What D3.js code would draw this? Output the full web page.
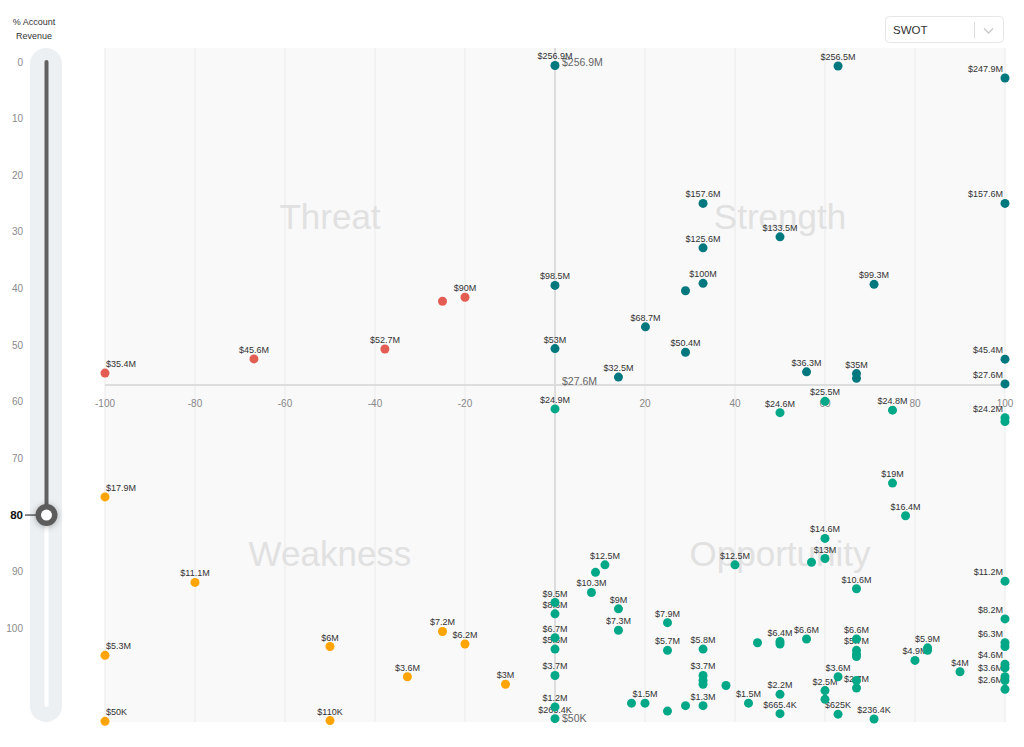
<!DOCTYPE html>
<html>
<head>
<meta charset="utf-8">
<script src="https://cdn.jsdelivr.net/npm/d3@7"></script>
<style>
  body { margin: 0; background: #fff; font-family: "Liberation Sans", Arial, sans-serif; }
</style>
</head>
<body>
<svg id="chart" width="1024" height="747"></svg>
<script>
// [score, revenue in $M, show label]
const strength = [
  [0, 256.9, 1], [62.9, 256.5, 1], [100, 247.9, 1], [32.9, 157.6, 1], [100, 157.6, 1],
  [50, 133.5, 1], [32.9, 125.6, 1], [0, 98.5, 1], [32.9, 100, 1], [29, 94.7, 0],
  [70.9, 99.3, 1], [20.1, 68.7, 1], [0, 53, 1], [29, 50.4, 1], [14.1, 32.5, 1],
  [55.9, 36.3, 1], [67, 35, 1], [67, 31.6, 0], [100, 45.4, 1], [100, 27.6, 1]
];
const threat = [
  [-100, 35.4, 1], [-66.9, 45.6, 1], [-37.8, 52.7, 1], [-25, 87.1, 0], [-20, 90, 1]
];
const opportunity = [
  [0, 24.9, 1], [50, 24.6, 1], [60, 25.5, 1], [75, 24.8, 1], [100, 24.2, 1], [100, 23.9, 0],
  [75, 19, 1], [77.9, 16.4, 1], [60, 14.6, 1], [60, 13, 1], [57, 12.7, 0], [40, 12.5, 1],
  [11.1, 12.5, 1], [9, 11.9, 0], [8.1, 10.3, 1], [67, 10.6, 1], [100, 11.2, 1],
  [0, 9.5, 1], [0, 8.6, 1], [14.1, 9, 1], [14.1, 7.3, 1], [25, 7.9, 1], [100, 8.2, 1],
  [0, 6.7, 1], [0, 5.8, 1], [25, 5.7, 1], [32.9, 5.8, 1], [45, 6.3, 0], [50, 6.4, 1],
  [50, 6.2, 0], [55.9, 6.6, 1], [67, 6.6, 1], [67, 5.7, 1], [67, 5.4, 0], [67, 5.2, 0],
  [82.8, 5.9, 1], [82.8, 5.7, 0], [80, 4.9, 1], [90, 4, 1], [100, 6.3, 1], [100, 6, 0],
  [100, 4.6, 1], [100, 4.3, 0], [100, 3.6, 1], [100, 3.3, 0], [100, 2.6, 1],
  [0, 3.7, 1], [32.9, 3.7, 1], [32.9, 3.3, 0], [32.9, 3.0, 0], [38, 2.9, 0],
  [62.9, 3.6, 1], [67, 3.3, 0], [67, 2.7, 1], [60, 2.5, 1], [60, 1.8, 0], [50, 2.2, 1],
  [43, 1.5, 1], [32.9, 1.3, 1], [29, 1.3, 0], [25, 0.87, 0], [20, 1.5, 1], [17, 1.5, 0],
  [0, 1.2, 1], [0, 0.2664, 1], [50, 0.6654, 1], [62.9, 0.625, 1], [70.9, 0.2364, 1]
];
const weakness = [
  [-100, 17.9, 1], [-80, 11.1, 1], [-25, 7.2, 1], [-20, 6.2, 1], [-50, 6, 1],
  [-100, 5.3, 1], [-32.8, 3.6, 1], [-11, 3, 1], [-100, 0.05, 1], [-50, 0.11, 1]
];

const xTicks = [-100, -80, -60, -40, -20, 0, 20, 40, 60, 80, 100];
const yTicks = [256.9, 27.6, 0.05];
const sliderTicks = [0, 10, 20, 30, 40, 50, 60, 70, 80, 90, 100];
const sliderValue = 80;
const revenueSplit = 26.8;
const revenueTop = 269.5;

const colors = { threat: "#e35d52", strength: "#00787e", weakness: "#ffa400", opportunity: "#00a887" };

const svg = d3.select("#chart");
const plot = { left: 105, right: 1005, top: 48, bottom: 722 };
const midY = (plot.top + plot.bottom) / 2;

const x = d3.scaleLinear().domain([-100, 100]).range([plot.left, plot.right]);
const y = d3.scaleLinear().domain([0, revenueSplit, revenueTop]).range([plot.bottom, midY, plot.top]);

const fmt = v => v >= 1 ? `$${+v.toFixed(1)}M` : `$${+(v * 1000).toFixed(1)}K`;

// shadow for slider handle
const defs = svg.append("defs");
defs.append("filter").attr("id", "shadow").attr("x", "-100%").attr("y", "-100%")
  .attr("width", "300%").attr("height", "300%")
  .append("feDropShadow").attr("dx", 0).attr("dy", 1).attr("stdDeviation", 3)
  .attr("flood-color", "#000").attr("flood-opacity", 0.3);

// plot background
svg.append("rect")
  .attr("x", plot.left).attr("y", plot.top)
  .attr("width", plot.right - plot.left).attr("height", plot.bottom - plot.top)
  .attr("fill", "#f9f9f9");

// vertical grid
svg.append("g").selectAll("line")
  .data(xTicks.filter(d => d !== 0))
  .enter().append("line")
  .attr("x1", d => x(d)).attr("x2", d => x(d))
  .attr("y1", plot.top).attr("y2", plot.bottom)
  .attr("stroke", "#ebebeb").attr("stroke-width", 1);

// quadrant names
const quadrants = [
  { name: "Threat", cx: (x(-100) + x(0)) / 2, cy: (y(revenueTop) + y(revenueSplit)) / 2 },
  { name: "Strength", cx: (x(0) + x(100)) / 2, cy: (y(revenueTop) + y(revenueSplit)) / 2 },
  { name: "Weakness", cx: (x(-100) + x(0)) / 2, cy: (y(revenueSplit) + y(0)) / 2 },
  { name: "Opportunity", cx: (x(0) + x(100)) / 2, cy: (y(revenueSplit) + y(0)) / 2 }
];
svg.append("g").selectAll("text")
  .data(quadrants)
  .enter().append("text")
  .attr("x", d => d.cx).attr("y", d => d.cy)
  .attr("text-anchor", "middle").attr("dominant-baseline", "central")
  .attr("font-size", 35).attr("fill", "#e1e1e1")
  .text(d => d.name);

// zero lines
svg.append("line")
  .attr("x1", x(0)).attr("x2", x(0)).attr("y1", plot.top).attr("y2", plot.bottom)
  .attr("stroke", "#dddddd").attr("stroke-width", 2);
svg.append("line")
  .attr("x1", plot.left).attr("x2", plot.right).attr("y1", y(revenueSplit)).attr("y2", y(revenueSplit))
  .attr("stroke", "#dddddd").attr("stroke-width", 2);

// x tick labels
svg.append("g").selectAll("text")
  .data(xTicks.filter(d => d !== 0))
  .enter().append("text")
  .attr("x", d => x(d)).attr("y", y(revenueSplit) + 22)
  .attr("text-anchor", "middle").attr("font-size", 10).attr("fill", "#888")
  .text(d => d);

// y tick labels along zero line
svg.append("g").selectAll("text")
  .data(yTicks)
  .enter().append("text")
  .attr("x", x(0) + 7).attr("y", d => y(d) + 1)
  .attr("font-size", 10.5).attr("fill", "#666")
  .text(d => fmt(d));

// points
const all = [
  ...threat.map(d => ({ x: d[0], v: d[1], lab: d[2], c: colors.threat })),
  ...strength.map(d => ({ x: d[0], v: d[1], lab: d[2], c: colors.strength })),
  ...weakness.map(d => ({ x: d[0], v: d[1], lab: d[2], c: colors.weakness })),
  ...opportunity.map(d => ({ x: d[0], v: d[1], lab: d[2], c: colors.opportunity }))
];

const labels = svg.append("g").selectAll("text")
  .data(all.filter(d => d.lab))
  .enter().append("text")
  .attr("y", d => y(d.v) - 6)
  .attr("font-size", 9).attr("fill", "#333")
  .text(d => fmt(d.v));

labels.each(function(d) {
  const w = this.getComputedTextLength();
  let left = x(d.x) - w / 2;
  left = Math.max(plot.left + 1, Math.min(plot.right - 2 - w, left));
  d3.select(this).attr("x", left);
});

svg.append("g").selectAll("circle")
  .data(all)
  .enter().append("circle")
  .attr("cx", d => x(d.x)).attr("cy", d => y(d.v))
  .attr("r", 4.5)
  .attr("fill", d => d.c);

// slider
const sy = d3.scaleLinear().domain([0, 100]).range([62, 628.3]);
const slider = svg.append("g");
slider.append("text").attr("x", 34).attr("y", 25).attr("text-anchor", "middle")
  .attr("font-size", 9).attr("fill", "#333").text("% Account");
slider.append("text").attr("x", 34).attr("y", 39).attr("text-anchor", "middle")
  .attr("font-size", 9).attr("fill", "#333").text("Revenue");

slider.append("rect")
  .attr("x", 30).attr("y", plot.top).attr("width", 32).attr("height", plot.bottom - plot.top)
  .attr("rx", 16).attr("fill", "#ecf0f3");

const trackX = 46.5;
const trackEnd = plot.bottom - 17;
slider.append("line")
  .attr("x1", trackX).attr("x2", trackX).attr("y1", sy(sliderValue)).attr("y2", trackEnd)
  .attr("stroke", "#fff").attr("stroke-width", 4).attr("stroke-linecap", "round");
slider.append("line")
  .attr("x1", trackX).attr("x2", trackX).attr("y1", sy(0)).attr("y2", sy(sliderValue))
  .attr("stroke", "#616161").attr("stroke-width", 4).attr("stroke-linecap", "round");

slider.append("g").selectAll("text")
  .data(sliderTicks.filter(d => d !== sliderValue))
  .enter().append("text")
  .attr("x", 23).attr("y", d => sy(d)).attr("dy", "0.35em")
  .attr("text-anchor", "end").attr("font-size", 10).attr("fill", "#8a8a8a")
  .text(d => d);

slider.append("text")
  .attr("x", 23).attr("y", sy(sliderValue)).attr("dy", "0.35em")
  .attr("text-anchor", "end").attr("font-size", 11.5).attr("font-weight", "bold").attr("fill", "#111")
  .text(sliderValue);
slider.append("line")
  .attr("x1", 25).attr("x2", 37).attr("y1", sy(sliderValue)).attr("y2", sy(sliderValue))
  .attr("stroke", "#111").attr("stroke-width", 1);

slider.append("circle")
  .attr("cx", trackX).attr("cy", sy(sliderValue)).attr("r", 11)
  .attr("fill", "#5b5b5b").attr("filter", "url(#shadow)");
slider.append("circle")
  .attr("cx", trackX).attr("cy", sy(sliderValue)).attr("r", 5.5)
  .attr("fill", "#fff");

// dropdown
const dd = svg.append("g");
dd.append("rect").attr("x", 885.5).attr("y", 16.5).attr("width", 118).attr("height", 26)
  .attr("rx", 4).attr("fill", "#fff").attr("stroke", "#e6e6e6");
dd.append("text").attr("x", 893).attr("y", 34).attr("font-size", 11.5).attr("fill", "#333").text("SWOT");
dd.append("line").attr("x1", 974.5).attr("x2", 974.5).attr("y1", 22).attr("y2", 38)
  .attr("stroke", "#dcdcdc");
dd.append("path").attr("d", "M984,28.5 L988.5,33 L993,28.5")
  .attr("fill", "none").attr("stroke", "#c8c8c8").attr("stroke-width", 1.3);
</script>
</body>
</html>
